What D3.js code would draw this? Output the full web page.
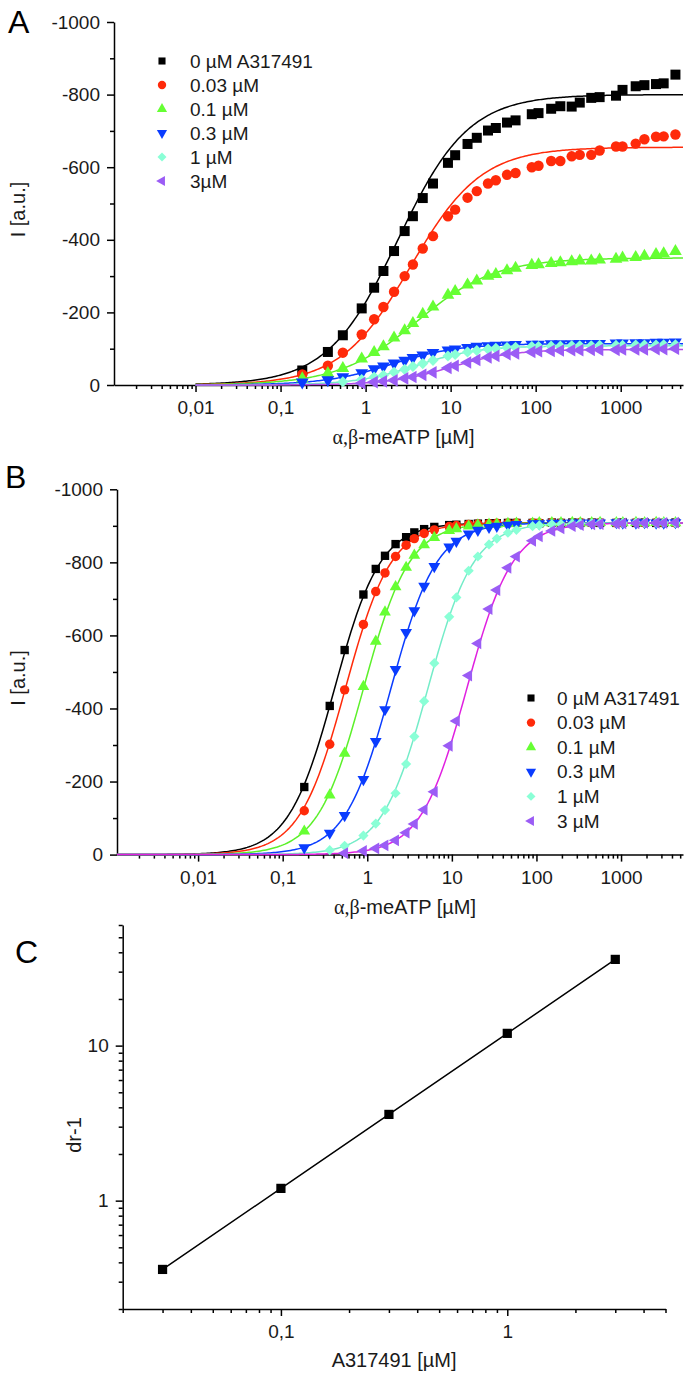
<!DOCTYPE html>
<html><head><meta charset="utf-8">
<script src="https://cdn.jsdelivr.net/npm/d3@7"></script>
<style>
body{margin:0;background:#fff;}
svg{display:block;}
</style></head><body>
<svg id="chart" width="693" height="1378"></svg>
<script>
// ---------------- DATA ----------------
const conc = [0.18, 0.36, 0.54, 0.9, 1.26, 1.62, 2.16, 2.88, 3.6, 4.7, 6.2, 9.3, 11.3, 15.8, 20.3, 27.5, 34, 46, 58, 90, 108, 152, 195, 265, 330, 450, 565, 880, 1050, 1500, 1900, 2600, 3200, 4400];

const labelsA = ["0 µM A317491", "0.03 µM", "0.1 µM", "0.3 µM", "1 µM", "3µM"];
const labelsB = ["0 µM A317491", "0.03 µM", "0.1 µM", "0.3 µM", "1 µM", "3 µM"];

// Panel A measured currents (first point index in conc given by startA)
const startA = [0, 0, 0, 0, 2, 3];
const a_0 = [-40, -91, -137, -211, -268, -314, -369, -424, -465, -515, -555, -612, -633, -664, -681, -701, -708, -723, -729, -746, -749, -761, -768, -767, -778, -791, -793, -797, -813, -823, -826, -829, -831, -855];
const a_003 = [-29, -53, -89, -139, -181, -215, -257, -300, -332, -376, -410, -465, -483, -516, -534, -555, -564, -579, -584, -600, -604, -617, -617, -630, -634, -634, -646, -657, -657, -665, -677, -684, -685, -690];
const a_01 = [-18, -32, -46, -72, -90, -106, -130, -150, -170, -195, -215, -248, -258, -276, -287, -300, -305, -315, -322, -330, -332, -335, -337, -340, -342, -342, -345, -347, -350, -352, -355, -360, -362, -368];
const a_03 = [-8, -14, -22, -33, -44, -52, -60, -68, -75, -82, -89, -96, -99, -103, -106, -108, -109, -110, -111, -112, -112, -113, -113, -113, -114, -114, -114, -115, -115, -116, -116, -117, -117, -118];
const a_1 = [-9, -15, -22, -27, -35, -43, -51, -59, -68, -80, -84, -91, -95, -99, -101, -103, -104, -106, -106, -107, -107, -108, -108, -108, -109, -109, -109, -110, -110, -110, -111, -111];
const a_3 = [-5, -8, -10, -13, -18, -22, -28, -35, -47, -53, -62, -69, -76, -80, -85, -87, -91, -93, -94, -95, -96, -96, -97, -97, -97, -98, -98, -98, -99, -99, -100];

// Panel A fitted logistic (Hill) parameters
const fitMaxA = [800, 655, 350, 114, 108, 98];
const fitEC50A = [2.4, 3.4, 4.0, 2.0, 4.0, 10];
const fitHillA = [1.05, 1.05, 0.95, 1.1, 1.2, 1.2];

// Panel B measured currents
const startB = [0, 0, 0, 0, 1, 2];
const b_0 = [-185, -407, -560, -712, -782, -818, -850, -869, -882, -891, -897, -902, -903, -905, -906, -907, -907, -908, -908, -908, -907, -909, -908, -909, -908, -909, -908, -908, -909, -908, -909, -908, -908, -909];
const b_003 = [-120, -302, -451, -630, -720, -771, -816, -847, -865, -879, -889, -898, -901, -904, -905, -906, -907, -907, -908, -908, -908, -909, -908, -908, -909, -908, -909, -908, -908, -909, -908, -909, -908, -908];
const b_01 = [-64, -163, -277, -460, -584, -664, -733, -786, -819, -848, -868, -887, -892, -899, -902, -904, -905, -906, -907, -907, -908, -908, -908, -909, -908, -908, -909, -908, -908, -909, -908, -909, -908, -908];
const b_03 = [-19, -59, -107, -206, -310, -397, -507, -608, -668, -735, -789, -842, -858, -878, -888, -896, -899, -902, -904, -906, -906, -907, -907, -908, -908, -908, -908, -909, -908, -908, -909, -908, -908, -909];
const b_1 = [-12, -24, -52, -85, -122, -168, -248, -323, -420, -524, -651, -704, -777, -816, -849, -865, -881, -889, -899, -901, -904, -905, -906, -907, -907, -908, -908, -908, -909, -908, -908, -909, -908];
const b_3 = [-4, -10, -17, -25, -39, -60, -84, -123, -172, -298, -366, -490, -578, -672, -724, -785, -816, -859, -871, -886, -893, -899, -902, -904, -905, -906, -907, -907, -908, -908, -908, -909];

const fitMaxB = [908, 908, 908, 908, 908, 908];
const fitEC50B = [0.41, 0.55, 0.9, 1.9, 5.2, 15];
const fitHillB = [1.6, 1.6, 1.6, 1.6, 1.6, 1.6];

const xDomainAB = [0.0011, 5400];
const xTicksAB = [0.01, 0.1, 1, 10, 100, 1000];
const xTickLabelsAB = ["0,01", "0,1", "1", "10", "100", "1000"];
const yTicksAB = [0, -200, -400, -600, -800, -1000];
const yMinorAB = [-100, -300, -500, -700, -900];

// Panel C (Schild plot)
const cConc = [0.03, 0.1, 0.3, 1, 3];
const cDr = [0.36, 1.2, 3.6, 12, 36];
const xDomainC = [0.02, 5];
const yDomainC = [0.2, 60];
const cXTicks = [0.1, 1], cXLabels = ["0,1", "1"];
const cYTicks = [1, 10], cYLabels = ["1", "10"];

// ---------------- STYLE ----------------
const FONT = '"Liberation Sans", Arial, Helvetica, sans-serif';
const markerColors = ["#000000", "#ff2a0a", "#66ff33", "#0a3cff", "#8affd6", "#9b5cf5"];
const lineColorsA = ["#000000", "#ff2a0a", "#5cf02a", "#0a3cff", "#74ecc8", "#b84ae8"];
const lineColorsB = ["#000000", "#ff2a0a", "#5cf02a", "#0a3cff", "#74ecc8", "#e020e0"];
const symTypes = [d3.symbolSquare, d3.symbolCircle, d3.symbolTriangle, d3.symbolTriangle, d3.symbolSquare, d3.symbolTriangle];
const symRot = [0, 0, 0, 180, 45, -90];

const svg = d3.select("#chart");

function hill(x, max, ec, n) { return -max / (1 + Math.pow(ec / x, n)); }
function minorLog(d0, d1) {
  const out = [];
  for (let e = Math.floor(Math.log10(d0)); e <= Math.ceil(Math.log10(d1)); e++) {
    for (let k = 2; k <= 9; k++) { const v = k * Math.pow(10, e); if (v >= d0 && v <= d1) out.push(v); }
  }
  return out;
}
function styleAxis(g) {
  g.selectAll("path.domain").attr("stroke", "#000").attr("stroke-width", 1.5);
  g.selectAll(".tick line").attr("stroke", "#000").attr("stroke-width", 1.5);
  g.selectAll(".tick text").attr("font-family", FONT).attr("font-size", 19).attr("fill", "#1a1a1a");
}
function letter(t, x, y) {
  svg.append("text").attr("x", x).attr("y", y).attr("font-family", FONT).attr("font-size", 32).attr("fill", "#000").text(t);
}

function drawDose(p) {
  const x = d3.scaleLog().domain(xDomainAB).range(p.xr);
  const y = d3.scaleLinear().domain([0, -1000]).range(p.yr);
  const g = svg.append("g");

  const xm = g.append("g").attr("transform", `translate(0,${p.yr[0]})`)
    .call(d3.axisBottom(x).tickValues(minorLog(...xDomainAB)).tickFormat("").tickSize(4).tickSizeOuter(0));
  xm.select(".domain").remove(); styleAxis(xm);
  const xa = g.append("g").attr("transform", `translate(0,${p.yr[0]})`)
    .call(d3.axisBottom(x).tickValues(xTicksAB).tickFormat((d, i) => xTickLabelsAB[i]).tickSize(7).tickPadding(9).tickSizeOuter(0));
  styleAxis(xa);

  const ym = g.append("g").attr("transform", `translate(${p.xr[0]},0)`)
    .call(d3.axisLeft(y).tickValues(yMinorAB).tickFormat("").tickSize(4).tickSizeOuter(0));
  ym.select(".domain").remove(); styleAxis(ym);
  const ya = g.append("g").attr("transform", `translate(${p.xr[0]},0)`)
    .call(d3.axisLeft(y).tickValues(yTicksAB).tickFormat(d => String(d)).tickSize(7).tickPadding(7).tickSizeOuter(0));
  styleAxis(ya);

  // titles
  const xt = g.append("text").attr("x", (p.xr[0] + p.xr[1]) / 2 + 5).attr("y", p.yr[0] + 59)
    .attr("text-anchor", "middle").attr("font-family", FONT).attr("font-size", 20).attr("fill", "#1a1a1a");
  xt.append("tspan").attr("font-family", '"Liberation Serif", "DejaVu Serif", serif').text("α,β");
  xt.append("tspan").text("-meATP [µM]");
  g.append("text").attr("transform", `translate(25,${(p.yr[0] + p.yr[1]) / 2 + 6}) rotate(-90)`)
    .attr("text-anchor", "middle").attr("font-family", FONT).attr("font-size", 20).attr("fill", "#1a1a1a").text("I [a.u.]");

  // fit curves
  const l0 = Math.log10(p.fitFrom), l1 = Math.log10(xDomainAB[1]);
  const xs = d3.range(0, 301).map(k => Math.pow(10, l0 + (l1 - l0) * k / 300));
  p.fitMax.forEach((m, i) => {
    g.append("path").datum(xs)
      .attr("d", d3.line().x(d => x(d)).y(d => y(hill(d, m, p.ec[i], p.n[i]))))
      .attr("fill", "none").attr("stroke", p.lineColors[i]).attr("stroke-width", 1.5);
  });
  // points
  p.series.forEach((vals, i) => {
    g.append("g").selectAll("path").data(vals).join("path")
      .attr("transform", (d, j) => `translate(${x(conc[p.start[i] + j])},${y(d)}) rotate(${symRot[i]})`)
      .attr("d", d3.symbol().type(symTypes[i]).size(p.sizes[i]))
      .attr("fill", markerColors[i]);
  });
  // legend
  p.labels.forEach((t, i) => {
    const yy = p.leg[1] + i * p.leg[3];
    g.append("path").attr("transform", `translate(${p.leg[0]},${yy}) rotate(${symRot[i]})`)
      .attr("d", d3.symbol().type(symTypes[i]).size(p.legSizes[i])).attr("fill", markerColors[i]);
    g.append("text").attr("x", p.leg[2]).attr("y", yy).attr("dy", "0.35em")
      .attr("font-family", FONT).attr("font-size", 19).attr("fill", "#1a1a1a").text(t);
  });
}

drawDose({
  xr: [114, 683], yr: [385, 22], series: [a_0, a_003, a_01, a_03, a_1, a_3], start: startA,
  fitMax: fitMaxA, ec: fitEC50A, n: fitHillA, fitFrom: 0.01, lineColors: lineColorsA,
  sizes: [100, 85, 70, 70, 62, 70], legSizes: [50, 55, 45, 45, 40, 45],
  labels: labelsA, leg: [162, 61, 190, 24]
});
drawDose({
  xr: [117, 683], yr: [854.6, 489.3], series: [b_0, b_003, b_01, b_03, b_1, b_3], start: startB,
  fitMax: fitMaxB, ec: fitEC50B, n: fitHillB, fitFrom: xDomainAB[0], lineColors: lineColorsB,
  sizes: [70, 70, 60, 60, 52, 60], legSizes: [50, 55, 45, 45, 40, 45],
  labels: labelsB, leg: [531, 698, 557, 24.6]
});

// Panel C
(function () {
  const xr = [122.7, 665.5], yr = [1309, 925];
  const x = d3.scaleLog().domain(xDomainC).range(xr);
  const y = d3.scaleLog().domain(yDomainC).range(yr);
  const g = svg.append("g");
  const xm = g.append("g").attr("transform", `translate(0,${yr[0]})`)
    .call(d3.axisBottom(x).tickValues(minorLog(...xDomainC)).tickFormat("").tickSize(4).tickSizeOuter(0));
  xm.select(".domain").remove(); styleAxis(xm);
  const xa = g.append("g").attr("transform", `translate(0,${yr[0]})`)
    .call(d3.axisBottom(x).tickValues(cXTicks).tickFormat((d, i) => cXLabels[i]).tickSize(7).tickPadding(9).tickSizeOuter(0));
  styleAxis(xa);
  const ym = g.append("g").attr("transform", `translate(${xr[0]},0)`)
    .call(d3.axisLeft(y).tickValues(minorLog(...yDomainC)).tickFormat("").tickSize(4).tickSizeOuter(0));
  ym.select(".domain").remove(); styleAxis(ym);
  const ya = g.append("g").attr("transform", `translate(${xr[0]},0)`)
    .call(d3.axisLeft(y).tickValues(cYTicks).tickFormat((d, i) => cYLabels[i]).tickSize(7).tickPadding(7).tickSizeOuter(0));
  styleAxis(ya);
  g.append("text").attr("x", (xr[0] + xr[1]) / 2).attr("y", yr[0] + 58).attr("text-anchor", "middle")
    .attr("font-family", FONT).attr("font-size", 20).attr("fill", "#1a1a1a").text("A317491 [µM]");
  g.append("text").attr("transform", `translate(81,1135) rotate(-90)`).attr("text-anchor", "middle")
    .attr("font-family", FONT).attr("font-size", 20).attr("fill", "#1a1a1a").text("dr-1");
  const pts = cConc.map((c, i) => [c, cDr[i]]);
  g.append("path").datum(pts).attr("d", d3.line().x(d => x(d[0])).y(d => y(d[1])))
    .attr("fill", "none").attr("stroke", "#000").attr("stroke-width", 1.5);
  g.append("g").selectAll("path").data(pts).join("path")
    .attr("transform", d => `translate(${x(d[0])},${y(d[1])})`)
    .attr("d", d3.symbol().type(d3.symbolSquare).size(85)).attr("fill", "#000");
})();

letter("A", 8, 33);
letter("B", 5, 488);
letter("C", 15, 963);
</script>
</body></html>
